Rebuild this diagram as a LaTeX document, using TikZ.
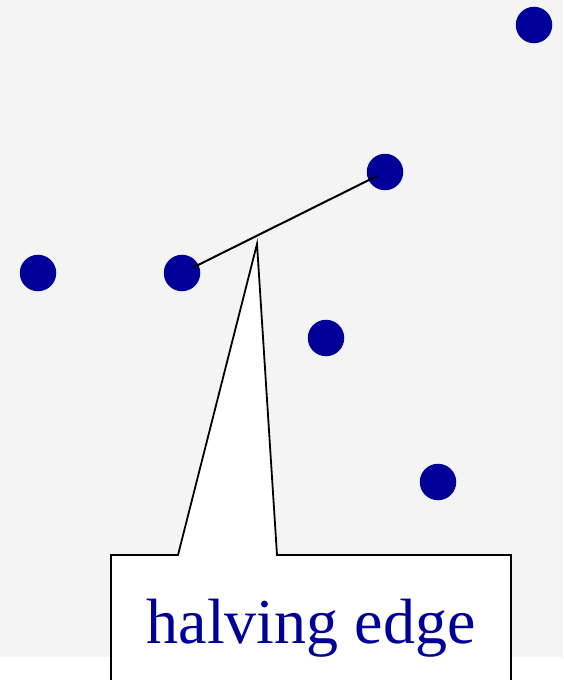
\documentclass[tikz,border=0pt]{standalone}
\usepackage{fontspec}
\setmainfont{Liberation Serif}
\usetikzlibrary{positioning,calc}
\definecolor{DotBlue}{RGB}{0,0,153}
\definecolor{PaneGray}{RGB}{244,244,244}
\tikzset{
  v/.style={circle,fill=DotBlue,inner sep=0pt,minimum size=36.5pt},
  edge/.style={draw=black,line width=2pt},
  callout/.style={draw=black,fill=white,line width=1.8pt,line join=miter},
}
\begin{document}
\begin{tikzpicture}[x=1pt,y=-1pt]
\useasboundingbox (0,0) rectangle (563,680);
\fill[PaneGray] (0,0) rectangle (563,657);
\coordinate (p0) at (534,25);
\coordinate (p1) at (385,172);
\coordinate (p2) at (38,273);
\coordinate (p3) at (182,273);
\coordinate (p4) at (326,338);
\coordinate (p5) at (438,482);
\node[v] (d0) at (p0) {};
\node[v] (d1) at (p1) {};
\node[v] (d2) at (p2) {};
\node[v] (d3) at (p3) {};
\node[v] (d4) at (p4) {};
\node[v] (d5) at (p5) {};
\draw[edge,shorten <=12pt,shorten >=9pt] (d3.center) -- (d1.center);
% speech bubble
\coordinate (tip) at (257,244);
\path[callout] (tip) -- (178,555) -- (111,555) -- (111,695)
  -- (511,695) -- (511,555) -- (277,555) -- cycle;
\node[text=DotBlue,font=\fontsize{64}{70}\selectfont,anchor=base] (lbl)
  at (311,643) {halving edge};
\end{tikzpicture}
\end{document}
